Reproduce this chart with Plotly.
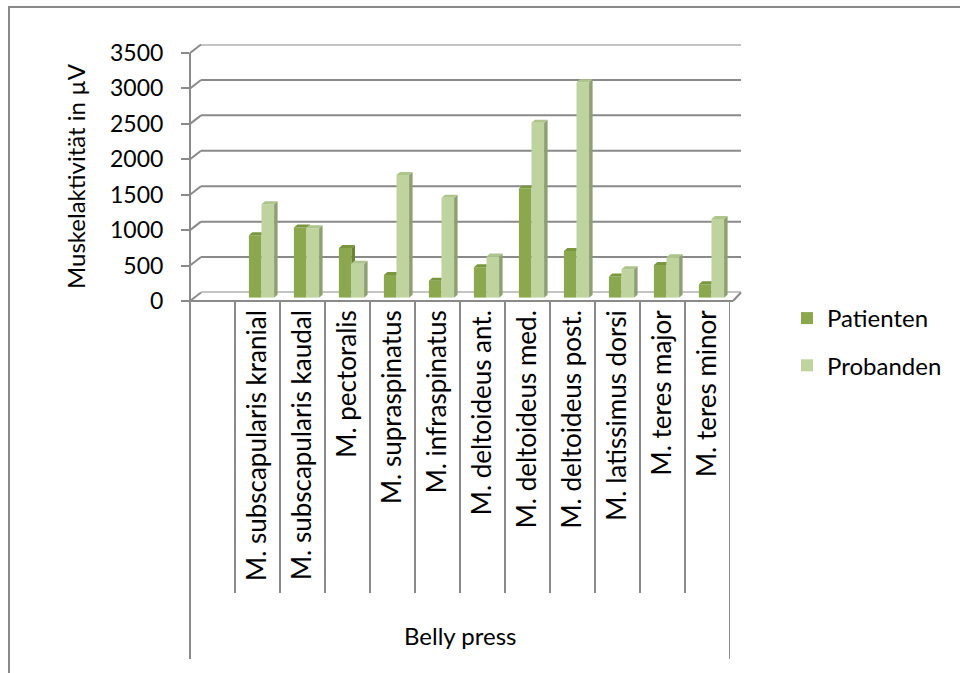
import plotly.graph_objects as go

# ---- data -------------------------------------------------------------
categories = ["", "M. subscapularis kranial", "M. subscapularis kaudal", "M. pectoralis",
              "M. supraspinatus", "M. infraspinatus", "M. deltoideus ant.",
              "M. deltoideus med.", "M. deltoideus post.", "M. latissimus dorsi",
              "M. teres major", "M. teres minor"]
patienten = [None, 880, 990, 700, 320, 240, 430, 1540, 660, 300, 460, 190]
probanden = [None, 1320, 980, 480, 1730, 1410, 580, 2470, 3040, 400, 570, 1110]
y_ticks = [0, 500, 1000, 1500, 2000, 2500, 3000, 3500]
group_label = "Belly press"
y_title = "Muskelaktivität in µV"
series_names = ["Patienten", "Probanden"]

# ---- styling / geometry -----------------------------------------------
W, H = 960, 673
FONT = "Lato"
GRID = "#8a8a8a"
P_FRONT, P_TOP, P_SIDE = "#8ca84f", "#7a963f", "#6b8434"
R_FRONT, R_TOP, R_SIDE = "#bed39d", "#adc48a", "#8e9f72"

Y_MAX = 3500
N = len(categories)
X_RANGE = [-0.5, N - 0.5]

# front plane (axis labels), in pixels
FX0, FX1, FY0, FY1 = 190, 730, 301, 53
# back plane (gridlines) offset and bar plane offset
BACK_DX, BACK_DY = 11, -8.5
MID_DX, MID_DY = 4, -3.3
BAR_W = 0.28          # width of one bar in category units
FACE_DX_PX, FACE_DY_PX = 3.5, 3.0


def px(x):
    return x / W


def py(y):
    return 1 - y / H


def dom(dx, dy):
    return [px(FX0 + dx), px(FX1 + dx)], [py(FY0 + dy), py(FY1 + dy)]


slot_px = (FX1 - FX0) / N
ddx = FACE_DX_PX / slot_px
ddy = FACE_DY_PX * Y_MAX / (FY0 - FY1)

fig = go.Figure()

# front faces of the columns
fig.add_trace(go.Bar(x=list(range(N)), y=patienten, name=series_names[0],
                     offset=-BAR_W, width=BAR_W, marker=dict(color=P_FRONT, line=dict(width=0)),
                     xaxis="x3", yaxis="y3", legendgroup="a"))
fig.add_trace(go.Bar(x=list(range(N)), y=probanden, name=series_names[1],
                     offset=0, width=BAR_W, marker=dict(color=R_FRONT, line=dict(width=0)),
                     xaxis="x3", yaxis="y3", legendgroup="b"))


def faces(vals, left, other=None):
    tops_x, tops_y, side_x, side_y = [], [], [], []
    for i, v in enumerate(vals):
        if v is None:
            continue
        x0, x1 = i + left, i + left + BAR_W
        o = other[i] if other is not None else None
        if o is not None and o >= v:
            # right part of the top is hidden behind the neighbouring column
            tops_x += [x0, x1, x1, x0 + ddx, x0, None]
            tops_y += [v, v, v + ddy, v + ddy, v, None]
        else:
            tops_x += [x0, x1, x1 + ddx, x0 + ddx, x0, None]
            tops_y += [v, v, v + ddy, v + ddy, v, None]
            b = o if o is not None else 0
            side_x += [x1, x1, x1 + ddx, x1 + ddx, x1, None]
            side_y += [b, v, v + ddy, b + ddy, b, None]
    return tops_x, tops_y, side_x, side_y


for vals, left, other, top_c, side_c in [
        (patienten, -BAR_W, probanden, P_TOP, P_SIDE),
        (probanden, 0, None, R_TOP, R_SIDE)]:
    tx, ty, sx, sy = faces(vals, left, other)
    for xs, ys, c in [(sx, sy, side_c), (tx, ty, top_c)]:
        if xs:
            fig.add_trace(go.Scatter(x=xs, y=ys, mode="lines", fill="toself",
                                     fillcolor=c, line=dict(width=0, color=c),
                                     hoverinfo="skip", showlegend=False,
                                     xaxis="x3", yaxis="y3"))

bx, by = dom(BACK_DX, BACK_DY)
fx_, fy_ = dom(0, 0)
mx, my = dom(MID_DX, MID_DY)

hidden = dict(visible=False, fixedrange=True, automargin=False)
fig.update_layout(
    template="none",
    width=W, height=H, autosize=False,
    margin=dict(l=0, r=0, t=0, b=0, pad=0),
    paper_bgcolor="white", plot_bgcolor="rgba(0,0,0,0)",
    font=dict(family=FONT, size=20, color="#000000"),
    barmode="overlay",
    showlegend=True,
    # back wall (holds the horizontal gridlines)
    xaxis=dict(domain=bx, range=X_RANGE, **hidden),
    yaxis=dict(domain=by, range=[0, Y_MAX], anchor="x", **hidden),
    # front plane: value ticks and category labels
    xaxis2=dict(domain=fx_, range=X_RANGE, anchor="y2", tickmode="array",
                tickvals=list(range(N)), ticktext=categories, tickangle=-90,
                ticks="", showgrid=False, zeroline=False, showline=False,
                ticklabelstandoff=3, tickfont=dict(size=26), fixedrange=True,
                automargin=False),
    yaxis2=dict(domain=fy_, range=[0, Y_MAX], anchor="x2", tickvals=y_ticks,
                ticks="outside", ticklen=8, tickwidth=2, tickcolor=GRID,
                showgrid=False, zeroline=False, showline=False,
                ticklabelstandoff=13, tickfont=dict(size=23), fixedrange=True,
                automargin=False),
    # bar plane
    xaxis3=dict(domain=mx, range=X_RANGE, anchor="y3", **hidden),
    yaxis3=dict(domain=my, range=[0, Y_MAX], anchor="x3", **hidden),
    legend=dict(x=px(787), y=py(296), xanchor="left", yanchor="top",
                font=dict(size=24), tracegroupgap=13, bgcolor="rgba(0,0,0,0)",
                borderwidth=0),
)

shapes = []
line = dict(color=GRID, width=2)
# chart border
shapes.append(dict(type="rect", xref="paper", yref="paper", x0=px(9), x1=px(W + 20),
                   y0=py(7), y1=py(H + 20), line=line, layer="below"))
# vertical value axis, continuing as the outer group divider
shapes.append(dict(type="line", xref="paper", yref="paper", x0=px(FX0), x1=px(FX0),
                   y0=py(FY1), y1=py(659), line=line, layer="below"))
for v in y_ticks:
    # gridline on the back wall
    shapes.append(dict(type="line", xref="x domain", yref="y", x0=0, x1=1,
                       y0=v, y1=v, line=line, layer="below"))
    # connector from the front tick to the back gridline
    yf = FY0 + (FY1 - FY0) * v / Y_MAX
    shapes.append(dict(type="line", xref="paper", yref="paper", x0=px(FX0), x1=px(FX0 + BACK_DX),
                       y0=py(yf), y1=py(yf + BACK_DY), line=line, layer="below"))
# floor: front edge and right edge
shapes.append(dict(type="line", xref="paper", yref="paper", x0=px(FX0), x1=px(FX1 + 3),
                   y0=py(FY0), y1=py(FY0), line=line, layer="below"))
shapes.append(dict(type="line", xref="paper", yref="paper", x0=px(FX1 + 3), x1=px(FX1 + BACK_DX),
                   y0=py(FY0), y1=py(FY0 + BACK_DY), line=line, layer="below"))
# category dividers below the floor
for k in range(1, N + 1):
    end = 659 if k == N else 593
    shapes.append(dict(type="line", xref="x2", yref="paper", x0=k - 0.5, x1=k - 0.5,
                       y0=py(FY0), y1=py(end), line=line, layer="below"))
fig.update_layout(shapes=shapes)

fig.add_annotation(text=y_title, xref="paper", yref="paper", x=px(76), y=py(176),
                   textangle=-90, showarrow=False, font=dict(size=24),
                   xanchor="center", yanchor="middle")
fig.add_annotation(text=group_label, xref="paper", yref="paper", x=px(460), y=py(635),
                   showarrow=False, font=dict(size=24), xanchor="center", yanchor="middle")

fig.write_html("out.html")
